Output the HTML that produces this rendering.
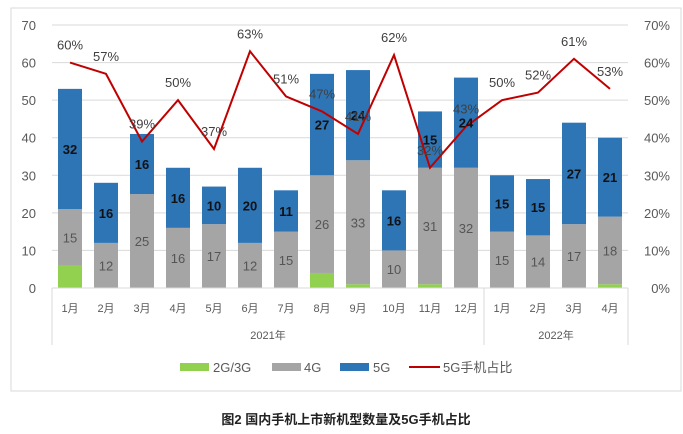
<!DOCTYPE html>
<html><head><meta charset="utf-8"><style>
body{margin:0;background:#fff;font-family:"Liberation Sans","Noto Sans CJK SC",sans-serif}
</style></head><body>
<svg width="683" height="429" xmlns="http://www.w3.org/2000/svg" font-family="Liberation Sans, Noto Sans CJK SC, sans-serif">
<rect x="11" y="8" width="670" height="383" fill="#fff" stroke="#d9d9d9"/>
<g id="grid"></g><g id="bars"></g><g id="line"></g><g id="labels"></g><g id="axes"></g>
<g font-size="13" fill="#595959">
<rect x="180" y="363" width="29" height="8" fill="#92d050"/>
<text x="213" y="372">2G/3G</text>
<rect x="272" y="363" width="29" height="8" fill="#a5a5a5"/>
<text x="304" y="372">4G</text>
<rect x="340" y="363" width="29" height="8" fill="#2e75b6"/>
<text x="373" y="372">5G</text>
<line x1="409" y1="367" x2="440" y2="367" stroke="#c00000" stroke-width="2"/>
<text x="443" y="372">5G手机占比</text>
</g>
<text x="346" y="424" text-anchor="middle" font-size="13" font-weight="bold" fill="#222">图2  国内手机上市新机型数量及5G手机占比</text>
</svg>
<script>
const months=["1月","2月","3月","4月","5月","6月","7月","8月","9月","10月","11月","12月","1月","2月","3月","4月"];
const g23=[6,0,0,0,0,0,0,4,1,0,1,0,0,0,0,1];
const g4=[15,12,25,16,17,12,15,26,33,10,31,32,15,14,17,18];
const g5=[32,16,16,16,10,20,11,27,24,16,15,24,15,15,27,21];
const pct=[60,57,39,50,37,63,51,47,41,62,32,43,50,52,61,53];
const leftTicks=[0,10,20,30,40,50,60,70];
const rightTicks=["0%","10%","20%","30%","40%","50%","60%","70%"];
const NS="http://www.w3.org/2000/svg";
const X0=52,X1=628,Y0=288,Y70=25,step=(X1-X0)/months.length,bw=24;
const y=v=>Y0-(v/70)*(Y0-Y70);
const yp=p=>Y0-(p/70)*(Y0-Y70);
const xc=i=>X0+step*(i+0.5);
function mk(tag,attrs,parent,txt){const e=document.createElementNS(NS,tag);for(const k in attrs)e.setAttribute(k,attrs[k]);if(txt!==undefined)e.textContent=txt;document.getElementById(parent).appendChild(e);return e;}
leftTicks.forEach((t,i)=>{
 const l=mk('line',{x1:X0,x2:X1,y1:y(t),y2:y(t),stroke:'#d9d9d9'},'grid');
 
 
 const a=mk('text',{x:36,y:y(t)+5,'text-anchor':'end','font-size':13,fill:'#595959'},'axes',t);
 
 
 const b=mk('text',{x:670,y:y(t)+5,'text-anchor':'end','font-size':13,fill:'#595959'},'axes',rightTicks[i]);
 
 
});
months.forEach((m,i)=>{
 const x=xc(i)-bw/2;
 const segs=[[g23[i],0,'#92d050'],[g4[i],g23[i],'#a5a5a5'],[g5[i],g23[i]+g4[i],'#2e75b6']];
 segs.forEach((s,k)=>{if(s[0]<=0)return;
  const r=mk('rect',{x:x,y:y(s[1]+s[0]),width:bw,height:y(s[1])-y(s[1]+s[0]),fill:s[2]},'bars');
  
  
 });
 const t4=mk('text',{x:xc(i),y:y(g23[i]+g4[i]/2)+5,'text-anchor':'middle','font-size':13,fill:'#555'},'labels',g4[i]);
 
 
 const t5=mk('text',{x:xc(i),y:y(g23[i]+g4[i]+g5[i]/2)+5,'text-anchor':'middle','font-size':13,'font-weight':'bold',fill:'#111'},'labels',g5[i]);
 
 
 const tp=mk('text',{x:xc(i),y:yp(pct[i])-13,'text-anchor':'middle','font-size':13,fill:'#404040'},'labels',pct[i]+'%');
 
 
 const ml=mk('text',{x:xc(i),y:312,'text-anchor':'middle','font-size':11,fill:'#595959'},'axes',m);
 
 
});
const pl=mk('polyline',{points:pct.map((p,i)=>xc(i)+','+yp(p)).join(' '),fill:'none',stroke:'#c00000','stroke-width':2},'line');


const xb=X0+step*12;
[X0,xb,X1].forEach(xx=>{const l=mk('line',{x1:xx,x2:xx,y1:Y0,y2:345,stroke:'#d9d9d9'},'axes');
 
 });
const bl=mk('line',{x1:X0,x2:X1,y1:Y0,y2:Y0,stroke:'#d9d9d9'},'axes');


const y1=mk('text',{x:(X0+xb)/2,y:339,'text-anchor':'middle','font-size':11,fill:'#595959'},'axes','2021年');


const y2=mk('text',{x:(xb+X1)/2,y:339,'text-anchor':'middle','font-size':11,fill:'#595959'},'axes','2022年');


</script>
</body></html>
